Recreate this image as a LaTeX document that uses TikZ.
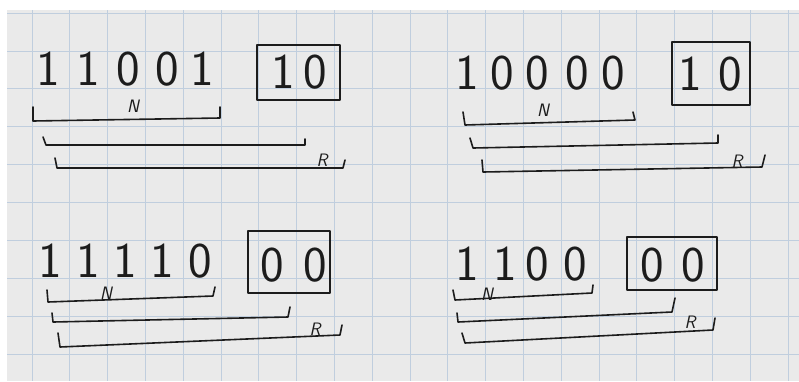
\documentclass[tikz,border=0pt]{standalone}
\usepackage{fontspec}
\usetikzlibrary{positioning}
\definecolor{ink}{RGB}{28,28,28}
\definecolor{paper}{RGB}{234,234,234}
\definecolor{gridc}{RGB}{192,206,222}

\begin{document}
\begin{tikzpicture}[x=1pt,y=-1pt,semithick,
    dig/.style={font=\fontsize{50}{50}\selectfont\sffamily,inner sep=0pt,text=ink},
    lbl/.style={font=\fontsize{18}{18}\selectfont\sffamily\itshape,inner sep=0pt,text=ink},
    ink line/.style={draw=ink,line width=1.6pt,line join=round,line cap=round},
    gridline/.style={draw=gridc,line width=0.8pt}]
  \useasboundingbox (0,0) rectangle (799,381);
  % the squared paper
  \fill[white] (0,0) rectangle (799,381);
  \fill[paper] (7,10) rectangle (799,381);
  \foreach \k in {0,...,20}
    \draw[gridline] (32+37.8*\k,10) -- (32+37.8*\k,381);
  \foreach \k in {0,...,9}
    \draw[gridline] (7,13+37.9*\k) -- (799,13+37.9*\k);

  % top left
  \foreach \d/\x [count=\i] in {1/48,1/88,0/128,0/167,1/202}
    \node[dig] (a\i) at (\x,69) {\d};
  \node[dig] (ab1) at (283,72) {1};
  \node[dig] (ab2) at (315,72) {0};
  \draw[ink line] (257,45) rectangle (340,100);
  \draw[ink line] (33,107) -- (33,121) -- (220,118) -- (220,107);
  \node[lbl] (aN) at (133,106) {N};
  \draw[ink line] (43,137) -- (46,145) -- (305,145) -- (305,139);
  \draw[ink line] (55,158) -- (57,168) -- (343,168) -- (345,160);
  \node[lbl] (aR) at (322,160) {R};

  % top right
  \foreach \d/\x [count=\i] in {1/467,0/502,0/537,0/577,0/613}
    \node[dig] (b\i) at (\x,73) {\d};
  \node[dig] (bb1) at (690,74) {1};
  \node[dig] (bb2) at (730,74) {0};
  \draw[ink line] (672,42) rectangle (750,105);
  \draw[ink line] (463,112) -- (465,125) -- (635,120) -- (633,112);
  \node[lbl] (bN) at (543,110) {N};
  \draw[ink line] (470,138) -- (473,148) -- (718,143) -- (718,135);
  \draw[ink line] (482,160) -- (483,172) -- (762,167) -- (765,155);
  \node[lbl] (bR) at (737,161) {R};

  % bottom left
  \foreach \d/\x [count=\i] in {1/50,1/88,1/125,1/162,0/200}
    \node[dig] (c\i) at (\x,261) {\d};
  \node[dig] (cb1) at (272,265) {0};
  \node[dig] (cb2) at (315,265) {0};
  \draw[ink line] (248,231) rectangle (330,293);
  \draw[ink line] (47,290) -- (48,302) -- (213,296) -- (215,287);
  \node[lbl] (cN) at (106,293) {N};
  \draw[ink line] (52,313) -- (53,322) -- (288,317) -- (290,307);
  \draw[ink line] (58,333) -- (60,347) -- (340,335) -- (342,325);
  \node[lbl] (cR) at (315,329) {R};

  % bottom right
  \foreach \d/\x [count=\i] in {1/467,1/505,0/537,0/575}
    \node[dig] (d\i) at (\x,264) {\d};
  \node[dig] (db1) at (652,265) {0};
  \node[dig] (db2) at (693,265) {0};
  \draw[ink line] (627,237) rectangle (717,290);
  \draw[ink line] (453,290) -- (455,300) -- (592,293) -- (593,285);
  \node[lbl] (dN) at (487,294) {N};
  \draw[ink line] (457,313) -- (458,322) -- (672,312) -- (675,298);
  \draw[ink line] (462,333) -- (465,343) -- (713,330) -- (715,318);
  \node[lbl] (dR) at (690,322) {R};
\end{tikzpicture}
\end{document}
